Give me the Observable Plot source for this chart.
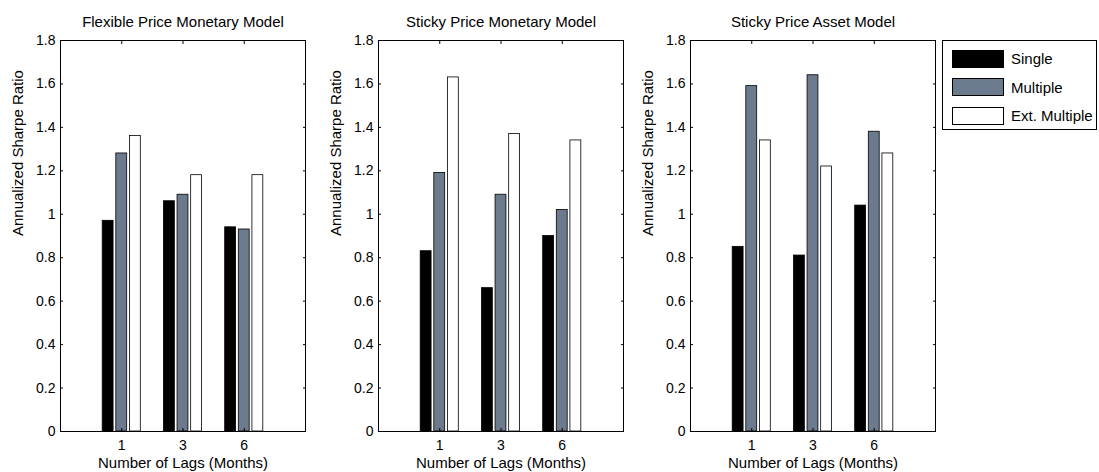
<!DOCTYPE html>
<html>
<head>
<meta charset="utf-8">
<script src="https://cdn.jsdelivr.net/npm/d3@7"></script>
<script src="https://cdn.jsdelivr.net/npm/@observablehq/plot@0.6"></script>
<style>
  body { margin: 0; background: #fff; }
  #chart { position: relative; width: 1099px; height: 472px; overflow: hidden;
           font-family: "Liberation Sans", Arial, sans-serif; }
  .panel { position: absolute; top: 0; }
  .legend { position: absolute; left: 942px; top: 40px; width: 155px; height: 90px;
            border: 1px solid #000; background: #fff; box-sizing: border-box; }
  .legend .item { position: absolute; left: 9px; height: 19px; display: flex; align-items: center; }
  .legend .swatch { width: 52px; height: 18px; border: 1px solid #000; box-sizing: border-box; margin-right: 7px; }
  .legend .name { font-size: 15px; color: #000; }
</style>
</head>
<body>
<div id="chart"></div>
<script>
// Lag lengths (months) on the x axis
const lags = ["1", "3", "6"];
// Signal construction series
const series = ["Single", "Multiple", "Ext. Multiple"];
const seriesColors = ["#000000", "#6c7a8e", "#ffffff"];
// Model panel titles
const models = ["Flexible Price Monetary Model", "Sticky Price Monetary Model", "Sticky Price Asset Model"];

// Annualized Sharpe ratios, one row per series, one value per lag
const flexiblePriceMonetary = [
  [0.97, 1.06, 0.94],
  [1.28, 1.09, 0.93],
  [1.36, 1.18, 1.18]
];
const stickyPriceMonetary = [
  [0.83, 0.66, 0.90],
  [1.19, 1.09, 1.02],
  [1.63, 1.37, 1.34]
];
const stickyPriceAsset = [
  [0.85, 0.81, 1.04],
  [1.59, 1.64, 1.38],
  [1.34, 1.22, 1.28]
];

const yTicks = [0, 0.2, 0.4, 0.6, 0.8, 1, 1.2, 1.4, 1.6, 1.8];
const xLabel = "Number of Lags (Months)";
const yLabel = "Annualized Sharpe Ratio";

const panelData = [flexiblePriceMonetary, stickyPriceMonetary, stickyPriceAsset];
const panelLeft = [0, 318, 630];

// grouped-bar layout: three bars per lag position, 2/3 of a unit wide in total
const slot = 2 / 9;
const barWidth = 0.8 * slot;

const chart = document.getElementById("chart");
const fontFamily = '"Liberation Sans", Arial, sans-serif';

panelData.forEach((values, p) => {
  const rows = [];
  values.forEach((vals, s) => {
    vals.forEach((v, i) => {
      const center = (i + 1) + (s - 1) * slot;
      rows.push({series: series[s], lag: lags[i], x1: center - barWidth / 2, x2: center + barWidth / 2, value: v});
    });
  });

  const plot = Plot.plot({
    width: 60 + 245 + 12,
    height: 472,
    marginLeft: 60,
    marginRight: 12,
    marginTop: 40,
    marginBottom: 41,
    style: {fontFamily, fontSize: "14px", color: "#000", background: "transparent", overflow: "visible"},
    x: {domain: [0, 4]},
    y: {domain: [0, 1.8]},
    color: {domain: series, range: seriesColors},
    marks: [
      Plot.rectY(rows, {x1: "x1", x2: "x2", y1: 0, y2: "value", fill: "series", stroke: "#000", strokeWidth: 0.8}),
      Plot.frame({stroke: "#000", strokeWidth: 1}),
      Plot.axisY({ticks: yTicks, tickSize: -3, tickPadding: 8, tickFormat: d => String(+d.toFixed(1)), label: null, fontSize: 14}),
      Plot.axisY({anchor: "right", ticks: yTicks, tickSize: -3, tickFormat: () => "", label: null}),
      Plot.axisX({ticks: [1, 2, 3], tickSize: -3, tickPadding: 12, tickFormat: d => lags[d - 1], label: null, fontSize: 14}),
      Plot.axisX({anchor: "top", ticks: [1, 2, 3], tickSize: -3, tickFormat: () => "", label: null}),
      Plot.text([models[p]], {text: d => d, frameAnchor: "top", lineAnchor: "middle", dy: -18, fontSize: 15}),
      Plot.text([xLabel], {text: d => d, frameAnchor: "bottom", lineAnchor: "middle", dy: 32, fontSize: 15}),
      Plot.text([yLabel], {text: d => d, frameAnchor: "left", dx: -42, rotate: -90, fontSize: 15})
    ]
  });
  plot.classList.add("panel");
  plot.style.left = panelLeft[p] + "px";
  chart.appendChild(plot);
});

// Legend box on the right
const legend = document.createElement("div");
legend.className = "legend";
series.forEach((name, s) => {
  const item = document.createElement("div");
  item.className = "item";
  item.style.top = (8 + s * 28.5) + "px";
  const sw = document.createElement("div");
  sw.className = "swatch";
  sw.style.background = seriesColors[s];
  const label = document.createElement("span");
  label.className = "name";
  label.textContent = name;
  item.appendChild(sw);
  item.appendChild(label);
  legend.appendChild(item);
});
chart.appendChild(legend);
</script>
</body>
</html>
